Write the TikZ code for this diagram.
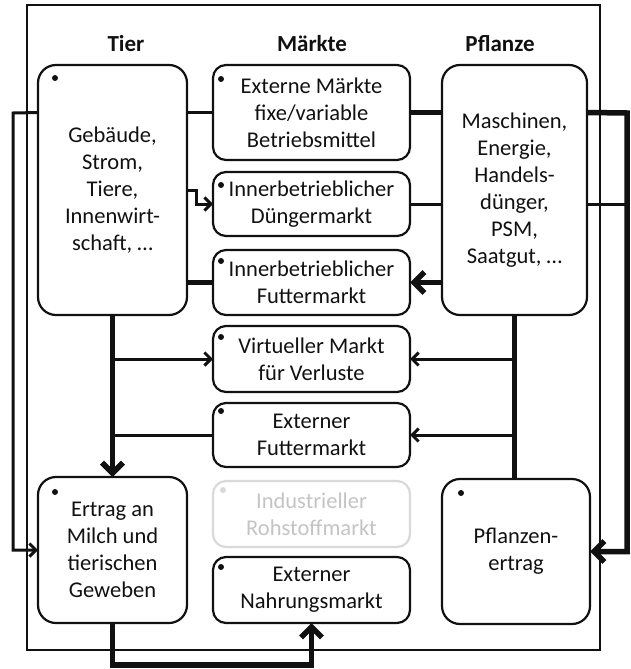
\documentclass[tikz,border=0pt]{standalone}
\usepackage{fontspec}
\setmainfont{Carlito}
\usetikzlibrary{arrows.meta}
\definecolor{faded}{HTML}{D9D9D9}
\definecolor{fadedtext}{HTML}{C4C4C4}
\definecolor{ink}{HTML}{111111}
\begin{document}
\begin{tikzpicture}[x=1pt,y=-1pt,
  box/.style={draw=ink, line width=2.2pt, rounded corners=13pt, inner sep=0pt, outer sep=0pt,
    align=center, text=ink, font=\fontsize{22.5}{27}\selectfont},
  bigbox/.style={box, rounded corners=18pt, minimum width=149pt, minimum height=250pt},
  mbox/.style={box, minimum width=197pt},
  head/.style={text=ink, font=\fontsize{23}{27}\selectfont\bfseries},
  thinline/.style={draw=ink, line width=3pt},
  thickline/.style={draw=ink, line width=5.5pt},
  frameline/.style={draw=ink, line width=1.9pt},
  smalltip/.style={-{Straight Barb[length=6.5pt,width=13pt]}},
  bigtip/.style={-{Straight Barb[length=10.5pt,width=21pt]}},
  dot/.style={fill=ink}
]
\useasboundingbox (0,0) rectangle (631,669);

% surrounding frame
\draw[frameline] (27,5) rectangle (600,650);

% column headings
\node[head] (hTier) at (126,44) {Tier};
\node[head] (hMarkt) at (312,44) {Märkte};
\node[head] (hPfl) at (500,44) {Pflanze};

% farm blocks
\node[bigbox] (tier) at (112.5,190) {Gebäude,\\Strom,\\Tiere,\\Innenwirt-\\schaft, …};
\node[bigbox, minimum width=145pt] (pfl) at (514.5,190) {Maschinen,\\Energie,\\Handels-\\dünger,\\PSM,\\Saatgut, …};
\node[bigbox, minimum height=146pt] (ertr) at (112.5,550) {Ertrag an\\Milch und\\tierischen\\Geweben};
\node[bigbox, minimum width=148pt, minimum height=145pt] (pert) at (516,551.5) {Pflanzen-\\ertrag};

% markets
\node[mbox, minimum height=95pt] (ext) at (311.5,112.5) {Externe Märkte\\fixe/variable\\Betriebsmittel};
\node[mbox, minimum height=64pt] (dung) at (311.5,204) {Innerbetrieblicher\\Düngermarkt};
\node[mbox, minimum height=65pt] (futt) at (311.5,282.5) {Innerbetrieblicher\\Futtermarkt};
\node[mbox, minimum height=66pt] (virt) at (311.5,359) {Virtueller Markt\\für Verluste};
\node[mbox, minimum height=64pt] (extf) at (311.5,435) {Externer\\Futtermarkt};
\node[mbox, minimum height=66pt, draw=faded, text=fadedtext] (indu) at (311.5,514) {Industrieller\\Rohstoffmarkt};
\node[mbox, minimum height=66pt] (nahr) at (311.5,590) {Externer\\Nahrungsmarkt};

% bullets in the box corners
\foreach \n/\dx/\dy in {tier/17/13, ertr/17/15, pert/19/14, ext/8/14, dung/8/13,
                        futt/8/11, virt/8/11, extf/8/8, nahr/8/10}
  \fill[dot] ([shift={(\dx,\dy)}]\n.north west) circle (3);
\fill[faded] ([shift={(10,9)}]indu.north west) circle (3);

% outer routing points
\coordinate (lx) at (13,113);
\coordinate (rx) at (627,113);
\coordinate (bot) at (0,665);

% top line: external markets
\draw[thinline] (ext.west) -- (ext.west -| tier.east);
\draw[thickline] (ext.east) -- (ext.east -| pfl.west);
\draw[thinline, smalltip] (ext.west -| tier.west) -- (lx) |- (ertr.west);
\draw[thickline, bigtip] (ext.east -| pfl.east) -- (rx) |- (pert.east);

% fertiliser market
\draw[thinline, smalltip] (tier.east) -- ++(9,0) |- (dung.west);
\draw[thinline] (dung.east) -- (dung.east -| pfl.west);
\draw[thinline] (dung.east -| pfl.east) -- (dung.east -| rx);

% feed market
\draw[thickline] (tier.east |- futt.west) -- (futt.west);
\draw[thickline, bigtip] (futt.east -| pfl.west) -- (futt.east);

% animal branch
\draw[thickline, bigtip] (tier.south) -- (ertr.north);
\draw[thinline, smalltip] (tier.south |- virt.west) -- (virt.west);
\draw[thinline] (extf.west) -- (extf.west -| tier.south);

% plant branch
\draw[thickline] (pfl.south) -- (pfl.south |- pert.north);
\draw[thinline, smalltip] (pfl.south |- virt.east) -- (virt.east);
\draw[thinline, smalltip] (pfl.south |- extf.east) -- (extf.east);

% food market
\draw[thickline, bigtip] (ertr.south) -- (ertr.south |- bot) -| (nahr.south);
\end{tikzpicture}
\end{document}
